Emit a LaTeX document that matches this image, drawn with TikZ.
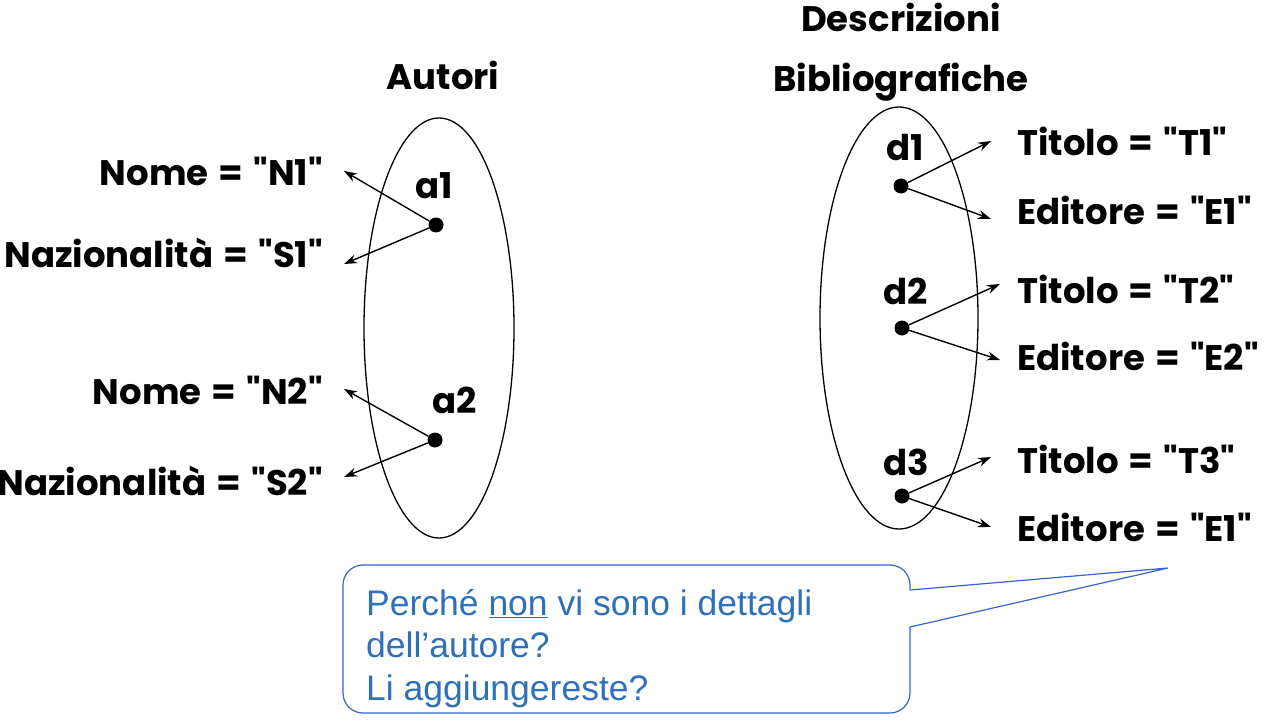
\documentclass[tikz,border=0pt]{standalone}
\usepackage{fontspec}
\usetikzlibrary{arrows.meta}
\newfontfamily\lblfont{Poppins}[WordSpace={1.35,1,1}]
\setmainfont{Liberation Sans}
\definecolor{calloutline}{RGB}{51,102,204}
\definecolor{callouttext}{RGB}{46,112,186}
\begin{document}
\begin{tikzpicture}[x=1pt,y=-1pt,
  lbl/.style={font=\lblfont\bfseries\fontsize{35.5}{40}\selectfont,inner sep=0pt},
  dot/.style={circle,fill=black,inner sep=0pt,minimum size=15pt},
  attr/.style={line width=1.4pt,-{Stealth[length=13pt,width=9pt]}},
  ell/.style={line width=1.3pt},
  callout/.style={draw=calloutline,line width=1.2pt}]
\useasboundingbox (0,0) rectangle (1280,722);
% ellipses
\draw[ell] (439,328) ellipse [x radius=75, y radius=210];
\draw[ell] (899,318) ellipse [x radius=79, y radius=211];
% titles
\node[lbl] (autori) at (443,75) {Autori};
\node[lbl] (descr) at (901,17) {Descrizioni};
\node[lbl] (biblio) at (901,82) {Bibliografiche};
% left side
\node[lbl] (la1) at (434,186) {a1};
\node[dot] (a1) at (436,225) {};
\node[lbl] (la2) at (455,400) {a2};
\node[dot] (a2) at (435,440) {};
\node[lbl,anchor=east] (n1) at (323,171) {Nome = "N1"};
\node[lbl,anchor=east] (s1) at (323,253) {Nazionalità = "S1"};
\node[lbl,anchor=east] (n2) at (323,390) {Nome = "N2"};
\node[lbl,anchor=east] (s2) at (323,481) {Nazionalità = "S2"};
\coordinate (tn1) at (344,171);
\coordinate (ts1) at (344,264);
\coordinate (tn2) at (344,389);
\coordinate (ts2) at (344,477);
\draw[attr] (a1) -- (tn1);
\draw[attr] (a1) -- (ts1);
\draw[attr] (a2) -- (tn2);
\draw[attr] (a2) -- (ts2);
% right side
\node[lbl] (ld1) at (905,148) {d1};
\node[dot] (d1) at (901,186) {};
\node[lbl] (ld2) at (906,291) {d2};
\node[dot] (d2) at (902,328) {};
\node[lbl] (ld3) at (906,462) {d3};
\node[dot] (d3) at (902,496) {};
\node[lbl,anchor=west] (t1) at (1017,141) {Titolo = "T1"};
\node[lbl,anchor=west] (e1) at (1017,210) {Editore = "E1"};
\node[lbl,anchor=west] (t2) at (1017,289) {Titolo = "T2"};
\node[lbl,anchor=west] (e2) at (1017,356) {Editore = "E2"};
\node[lbl,anchor=west] (t3) at (1017,459) {Titolo = "T3"};
\node[lbl,anchor=west] (e3) at (1017,527) {Editore = "E1"};
\coordinate (tt1) at (991,141);
\coordinate (te1) at (991,219);
\coordinate (tt2) at (1000,284);
\coordinate (te2) at (1000,360);
\coordinate (tt3) at (991,457);
\coordinate (te3) at (991,527);
\draw[attr] (d1) -- (tt1);
\draw[attr] (d1) -- (te1);
\draw[attr] (d2) -- (tt2);
\draw[attr] (d2) -- (te2);
\draw[attr] (d3) -- (tt3);
\draw[attr] (d3) -- (te3);
% callout
\coordinate (tip) at (1168,568);
\draw[callout,rounded corners=20pt] (910,590) -- (910,565) -- (343,565) -- (343,713) -- (910,713) -- (910,627);
\draw[callout] (910,590) -- (tip) -- (910,627);
\node[anchor=north west,inner sep=0pt,align=left,text=callouttext,
  font=\fontsize{35.5}{42.5}\selectfont] (q) at (366,589)
  {Perché \underline{non} vi sono i dettagli\\dell’autore?\\Li aggiungereste?};
\end{tikzpicture}
\end{document}
